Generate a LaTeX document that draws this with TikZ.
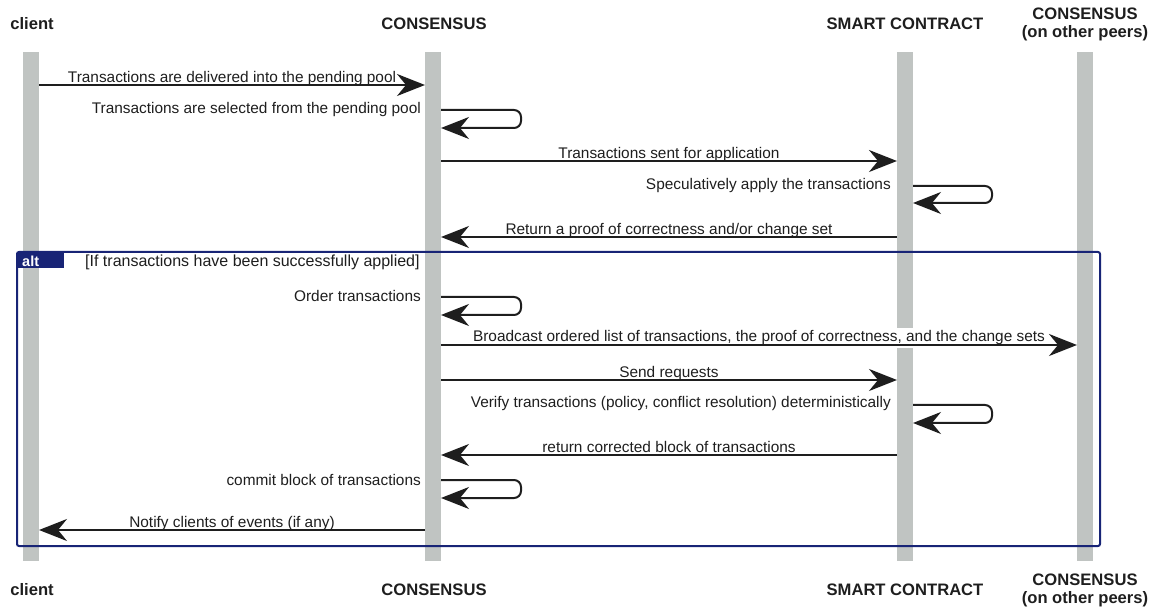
\documentclass[tikz,border=0pt]{standalone}
\usepackage{fontspec}
\setmainfont{Liberation Sans}
\usetikzlibrary{arrows.meta,calc}
\definecolor{lifegray}{RGB}{192,196,194}
\definecolor{navy}{RGB}{24,36,118}
\definecolor{ink}{RGB}{30,30,30}
\begin{document}
\begin{tikzpicture}[x=1pt,y=-1pt,
  lifeline/.style={fill=lifegray, draw=none, minimum width=16pt, minimum height=509pt, inner sep=0pt, anchor=north},
  hdr/.style={font=\fontsize{16.6}{18}\selectfont\bfseries, text=ink, align=center, inner sep=0pt},
  msg/.style={draw=ink, line width=2pt, -{Stealth[length=28pt,width=22pt,inset=9pt]}},
  selfmsg/.style={msg, rounded corners=7pt},
  lbl/.style={font=\fontsize{15.4}{17}\selectfont, text=ink, anchor=base, inner sep=0pt},
  slbl/.style={font=\fontsize{15.4}{17}\selectfont, text=ink, anchor=east, inner sep=0pt},
]
\useasboundingbox (0,0) rectangle (1157,609);
% lifelines
\node[lifeline] (L1) at (31,52) {};
\node[lifeline] (L2) at (433,52) {};
\node[lifeline] (L3) at (905,52) {};
\node[lifeline] (L4) at (1085,52) {};
% headers
\node[hdr] (h1) at (32,24) {client};
\node[hdr] (h2) at (434,24) {CONSENSUS};
\node[hdr] (h3) at (905,24) {SMART CONTRACT};
\node[hdr] (h4) at (1085,24) {CONSENSUS\\(on other peers)};
\node[hdr] (f1) at (32,590) {client};
\node[hdr] (f2) at (434,590) {CONSENSUS};
\node[hdr] (f3) at (905,590) {SMART CONTRACT};
\node[hdr] (f4) at (1085,590) {CONSENSUS\\(on other peers)};
% endpoints
\coordinate (m1a) at (39,85);   \coordinate (m1b) at (425,85);
\coordinate (s1a) at (441,110); \coordinate (s1b) at (441,128);
\coordinate (m3a) at (441,161); \coordinate (m3b) at (897,161);
\coordinate (s2a) at (913,186); \coordinate (s2b) at (913,203);
\coordinate (m5a) at (897,237); \coordinate (m5b) at (441,237);
\coordinate (s3a) at (441,297); \coordinate (s3b) at (441,315);
\coordinate (m7a) at (441,345); \coordinate (m7b) at (1077,345);
\coordinate (m8a) at (441,380); \coordinate (m8b) at (897,380);
\coordinate (s4a) at (913,405); \coordinate (s4b) at (913,423);
\coordinate (m10a) at (897,455); \coordinate (m10b) at (441,455);
\coordinate (s5a) at (441,480); \coordinate (s5b) at (441,498);
\coordinate (m12a) at (425,530); \coordinate (m12b) at (39,530);
% broadcast label (covers lifeline)
\node[lbl, fill=white, inner sep=3pt] (t7) at ($(m7a)!0.5!(m7b)+(0,-3)$) {Broadcast ordered list of transactions, the proof of correctness, and the change sets};
% messages
\draw[msg] (m1a) -- node[lbl, pos=0.5, yshift=2.5pt] (t1) {Transactions are delivered into the pending pool} (m1b);
\draw[selfmsg] (s1a) -- ++(80,0) |- (s1b);
\node[slbl] (t2) at (421,110) {Transactions are selected from the pending pool};
\draw[msg] (m3a) -- node[lbl, pos=0.5, yshift=2.5pt] (t3) {Transactions sent for application} (m3b);
\draw[selfmsg] (s2a) -- ++(79,0) |- (s2b);
\node[slbl] (t4) at (891,186) {Speculatively apply the transactions};
\draw[msg] (m5a) -- node[lbl, pos=0.5, yshift=2.5pt] (t5) {Return a proof of correctness and/or change set} (m5b);
\draw[selfmsg] (s3a) -- ++(80,0) |- (s3b);
\node[slbl] (t6) at (421,296) {Order transactions};
\draw[msg] (m7a) -- (m7b);
\draw[msg] (m8a) -- node[lbl, pos=0.5, yshift=2.5pt] (t8) {Send requests} (m8b);
\draw[selfmsg] (s4a) -- ++(79,0) |- (s4b);
\node[slbl] (t9) at (891,404) {Verify transactions (policy, conflict resolution) deterministically};
\draw[msg] (m10a) -- node[lbl, pos=0.5, yshift=2.5pt] (t10) {return corrected block of transactions} (m10b);
\draw[selfmsg] (s5a) -- ++(80,0) |- (s5b);
\node[slbl] (t11) at (421,480) {commit block of transactions};
\draw[msg] (m12a) -- node[lbl, pos=0.5, yshift=2.5pt] (t12) {Notify clients of events (if any)} (m12b);
% alt frame
\draw[navy, line width=2pt, rounded corners=2pt] (17,252) rectangle (1100,546);
\fill[navy] (17,252) rectangle (64,268);
\node[font=\fontsize{14.5}{16}\selectfont\bfseries, text=white, anchor=west, inner sep=0pt] (alt) at (22,261) {alt};
\node[font=\fontsize{16}{18}\selectfont, text=ink, anchor=west, inner sep=0pt] (cond) at (85,262) {[If transactions have been successfully applied]};
\end{tikzpicture}
\end{document}
